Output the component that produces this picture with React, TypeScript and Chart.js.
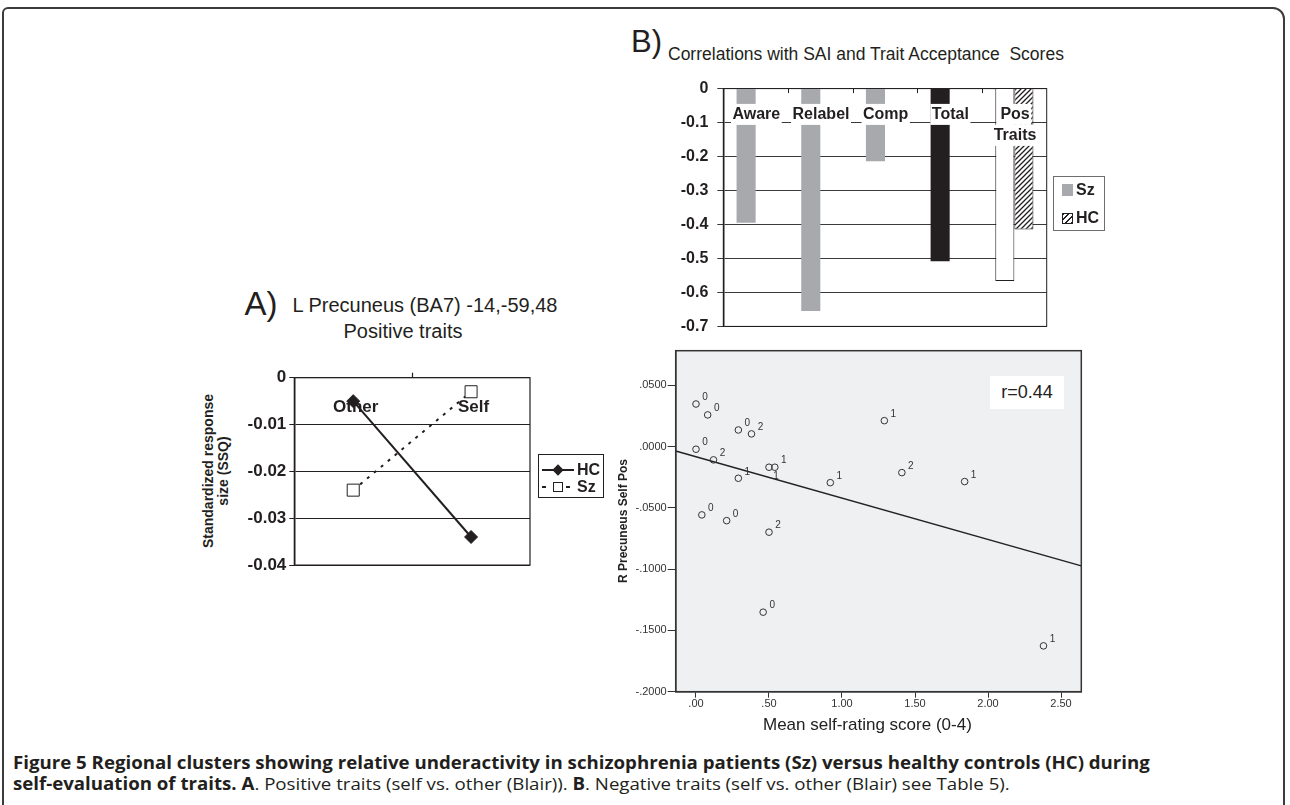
import React, { useEffect, useLayoutEffect, useRef } from 'react';
import { Chart, registerables } from 'chart.js';

Chart.register(...registerables);

const FONT = '"Liberation Sans", Arial, Helvetica, sans-serif';
const INK = '#231f20';

// ---------- Panel B: correlations with SAI and trait acceptance ----------
const saiCategories: (string | string[])[] = ['Aware', 'Relabel', 'Comp', 'Total', ['Pos', 'Traits']];
const szCorrelations: (number | null)[] = [-0.395, -0.655, -0.214, -0.508, -0.566];
const hcCorrelations: (number | null)[] = [null, null, null, null, -0.415];
const corrMin = -0.7;
const corrMax = 0;
const corrStep = 0.1;

// ---------- Panel A: L precuneus, positive traits ----------
const conditions = ['Other', 'Self'];
const hcResponse = [-0.005, -0.034];
const szResponse = [-0.024, -0.003];
const respMin = -0.04;
const respMax = 0;
const respStep = 0.01;

// ---------- Scatter: R precuneus self pos vs mean self-rating ----------
const selfRating = [0.0, 0.08, 0.29, 0.38, 0.0, 0.12, 0.5, 0.54, 0.29, 0.92, 1.29, 1.41, 1.84, 0.04, 0.21, 0.5, 0.46, 2.38];
const precuneusSelfPos = [0.0348, 0.0259, 0.0136, 0.0104, -0.0021, -0.0108, -0.0168, -0.0168, -0.0258, -0.0294, 0.0212, -0.0212, -0.0285, -0.0557, -0.0604, -0.0698, -0.1351, -0.1626];
const pointTags = ['0', '0', '0', '2', '0', '2', '1', '1', '1', '1', '1', '2', '1', '0', '0', '2', '0', '1'];
const tagBelow = [false, false, false, false, false, false, true, false, false, false, false, false, false, false, false, false, false, false];
const fitX = [-0.139, 2.639];
const fitY = [-0.0035, -0.0973];
const scatterXTicks = [0, 0.5, 1, 1.5, 2, 2.5];
const scatterYTicks = [-0.2, -0.15, -0.1, -0.05, 0, 0.05];
const scatterXMin = -0.139;
const scatterXMax = 2.639;
const scatterYMin = -0.2;
const scatterYMax = 0.0783;

Chart.defaults.font.family = FONT;

function makeHatch(): any {
  const c = document.createElement('canvas');
  c.width = 5;
  c.height = 5;
  const g = c.getContext('2d')!;
  g.fillStyle = '#ffffff';
  g.fillRect(0, 0, 5, 5);
  g.strokeStyle = INK;
  g.lineWidth = 1.3;
  g.beginPath();
  g.moveTo(-1, 6);
  g.lineTo(6, -1);
  g.moveTo(-2, 2);
  g.lineTo(2, -2);
  g.moveTo(3, 7);
  g.lineTo(7, 3);
  g.stroke();
  return g.createPattern(c, 'repeat');
}

function CorrelationChart() {
  const ref = useRef<HTMLCanvasElement>(null);
  useEffect(() => {
    const hatch = makeHatch();
    const decor = {
      id: 'corrDecor',
      beforeDatasetsDraw(chart: any) {
        const { ctx, chartArea } = chart;
        const x = chart.scales.x;
        ctx.save();
        ctx.strokeStyle = INK;
        ctx.lineWidth = 1;
        ctx.strokeRect(chartArea.left, chartArea.top, chartArea.right - chartArea.left, chartArea.bottom - chartArea.top);
        ctx.beginPath();
        for (let i = 1; i < saiCategories.length; i++) {
          const bx = Math.round((x.getPixelForValue(i - 1) + x.getPixelForValue(i)) / 2) + 0.5;
          ctx.moveTo(bx, chartArea.top);
          ctx.lineTo(bx, chartArea.top + 4.5);
        }
        ctx.stroke();
        ctx.restore();
      },
      afterDatasetsDraw(chart: any) {
        const { ctx } = chart;
        const x = chart.scales.x;
        const y = chart.scales.y;
        ctx.save();
        ctx.font = `bold 16px ${FONT}`;
        ctx.textAlign = 'center';
        ctx.textBaseline = 'middle';
        saiCategories.forEach((lab, i) => {
          const lines = Array.isArray(lab) ? lab : [lab];
          const cx = x.getPixelForValue(i) + 0.7;
          lines.forEach((ln, j) => {
            const cy = y.getPixelForValue(0) + 25.8 + j * 21;
            const w = ctx.measureText(ln).width;
            ctx.fillStyle = '#ffffff';
            ctx.fillRect(cx - w / 2 - 1.5, cy - 10.5, w + 3, 21);
            ctx.fillStyle = INK;
            ctx.fillText(ln, cx, cy + 0.5);
          });
        });
        ctx.restore();
      },
    };
    const chart = new Chart(ref.current!, {
      type: 'bar',
      data: {
        labels: saiCategories as any,
        datasets: [
          {
            label: 'Sz',
            data: szCorrelations,
            backgroundColor: ['#a7a9ac', '#a7a9ac', '#a7a9ac', INK, '#ffffff'],
            borderColor: INK,
            borderWidth: [0, 0, 0, 0, 1],
            borderSkipped: 'start',
          },
          {
            label: 'HC',
            data: hcCorrelations,
            backgroundColor: hatch,
            borderColor: INK,
            borderWidth: 1,
            borderSkipped: 'start',
          },
        ] as any,
      },
      options: {
        responsive: false,
        animation: false,
        devicePixelRatio: 1,
        layout: { padding: { left: 0, top: 14.4, right: 13.3, bottom: 17.3 } },
        plugins: { legend: { display: false }, tooltip: { enabled: false } },
        datasets: { bar: { categoryPercentage: 0.59, barPercentage: 1 } } as any,
        scales: {
          x: { display: false },
          y: {
            min: corrMin,
            max: corrMax,
            ticks: {
              stepSize: corrStep,
              font: { family: FONT, size: 16, weight: 'bold' },
              color: INK,
              padding: 9,
              callback: (v: any) => (Math.abs(Number(v)) < 1e-9 ? '0' : Number(v).toFixed(1)),
            },
            grid: { color: '#3a3a3a', lineWidth: 1, tickLength: 6 },
            border: { color: INK, width: 1.5 },
            afterFit: (s: any) => {
              s.width = 63.3;
            },
          },
        },
      } as any,
      plugins: [decor],
    });
    return () => chart.destroy();
  }, []);
  return <canvas ref={ref} width={400} height={275} style={{ position: 'absolute', left: 660, top: 70 }} />;
}

function PrecuneusChart() {
  const ref = useRef<HTMLCanvasElement>(null);
  useEffect(() => {
    const decor = {
      id: 'precDecor',
      beforeDatasetsDraw(chart: any) {
        const { ctx, chartArea } = chart;
        const x = chart.scales.x;
        const y = chart.scales.y;
        ctx.save();
        ctx.strokeStyle = INK;
        ctx.lineWidth = 1.2;
        ctx.strokeRect(chartArea.left, chartArea.top, chartArea.right - chartArea.left, chartArea.bottom - chartArea.top);
        const mid = Math.round((x.getPixelForValue(0) + x.getPixelForValue(1)) / 2) + 0.5;
        ctx.beginPath();
        ctx.moveTo(mid, chartArea.top);
        ctx.lineTo(mid, chartArea.top - 5);
        ctx.stroke();
        ctx.font = `bold 17px ${FONT}`;
        ctx.textAlign = 'center';
        ctx.textBaseline = 'middle';
        ctx.fillStyle = INK;
        conditions.forEach((c, i) => {
          ctx.fillText(c, x.getPixelForValue(i) + 2.5, y.getPixelForValue(0) + 29.5);
        });
        ctx.restore();
      },
    };
    const chart = new Chart(ref.current!, {
      type: 'line',
      data: {
        labels: conditions,
        datasets: [
          {
            label: 'HC',
            data: hcResponse,
            borderColor: INK,
            borderWidth: 2,
            pointStyle: 'rectRot',
            pointRadius: 6.5,
            pointBackgroundColor: INK,
            pointBorderColor: INK,
            pointBorderWidth: 1,
          },
          {
            label: 'Sz',
            data: szResponse,
            borderColor: INK,
            borderWidth: 2,
            borderDash: [3, 6],
            pointStyle: 'rect',
            pointRadius: 8.5,
            pointBackgroundColor: '#ffffff',
            pointBorderColor: INK,
            pointBorderWidth: 1,
          },
        ] as any,
      },
      options: {
        responsive: false,
        animation: false,
        devicePixelRatio: 1,
        layout: { padding: { left: 0, top: 17.7, right: 20, bottom: 14.9 } },
        plugins: { legend: { display: false }, tooltip: { enabled: false } },
        scales: {
          x: { display: false, offset: true },
          y: {
            min: respMin,
            max: respMax,
            ticks: {
              stepSize: respStep,
              font: { family: FONT, size: 17, weight: 'bold' },
              color: INK,
              padding: 3,
              callback: (v: any) => (Math.abs(Number(v)) < 1e-9 ? '0' : Number(v).toFixed(2)),
            },
            grid: { color: INK, lineWidth: 1, tickLength: 5 },
            border: { color: INK, width: 1.5 },
            afterFit: (s: any) => {
              s.width = 104.3;
            },
          },
        },
      } as any,
      plugins: [decor],
    });
    return () => chart.destroy();
  }, []);
  return <canvas ref={ref} width={360} height={220} style={{ position: 'absolute', left: 190, top: 360 }} />;
}

function fmtSpss(v: number, d: number) {
  return Number(v).toFixed(d).replace(/^(-?)0\./, '$1.');
}

function ScatterChart() {
  const ref = useRef<HTMLCanvasElement>(null);
  useEffect(() => {
    const decor = {
      id: 'scatDecor',
      beforeDraw(chart: any) {
        const { ctx, chartArea } = chart;
        ctx.save();
        ctx.fillStyle = '#eff0f2';
        ctx.fillRect(chartArea.left, chartArea.top, chartArea.right - chartArea.left, chartArea.bottom - chartArea.top);
        ctx.restore();
      },
      afterDatasetsDraw(chart: any) {
        const { ctx } = chart;
        const meta = chart.getDatasetMeta(0);
        ctx.save();
        ctx.font = `10px ${FONT}`;
        ctx.fillStyle = '#333333';
        ctx.textAlign = 'center';
        ctx.textBaseline = 'middle';
        meta.data.forEach((pt: any, i: number) => {
          const dx = tagBelow[i] ? 7 : 9;
          const dy = tagBelow[i] ? 9 : -6.5;
          ctx.fillText(pointTags[i], pt.x + dx, pt.y + dy);
        });
        ctx.restore();
      },
      afterDraw(chart: any) {
        const { ctx, chartArea } = chart;
        ctx.save();
        ctx.strokeStyle = '#333333';
        ctx.lineWidth = 1.5;
        ctx.strokeRect(chartArea.left, chartArea.top, chartArea.right - chartArea.left, chartArea.bottom - chartArea.top);
        ctx.restore();
      },
    };
    const chart = new Chart(ref.current!, {
      type: 'scatter',
      data: {
        datasets: [
          {
            label: 'subjects',
            data: selfRating.map((x, i) => ({ x, y: precuneusSelfPos[i] })),
            pointRadius: 3.3,
            pointHoverRadius: 3.3,
            pointBorderWidth: 1,
            pointBorderColor: '#333333',
            pointBackgroundColor: 'rgba(0,0,0,0)',
          },
          {
            label: 'fit',
            data: fitX.map((x, i) => ({ x, y: fitY[i] })),
            showLine: true,
            borderColor: '#222222',
            borderWidth: 1.5,
            pointRadius: 0,
            pointHoverRadius: 0,
          },
        ] as any,
      },
      options: {
        responsive: false,
        animation: false,
        devicePixelRatio: 1,
        layout: { padding: { left: 0, top: 15.7, right: 18.7, bottom: 13.3 } },
        plugins: { legend: { display: false }, tooltip: { enabled: false } },
        scales: {
          x: {
            type: 'linear',
            min: scatterXMin,
            max: scatterXMax,
            afterBuildTicks: (s: any) => {
              s.ticks = scatterXTicks.map((v) => ({ value: v }));
            },
            ticks: {
              autoSkip: false,
              maxRotation: 0,
              font: { family: FONT, size: 11 },
              color: '#333333',
              padding: 0,
              callback: (v: any) => fmtSpss(v, 2),
            },
            grid: { drawOnChartArea: false, tickLength: 6, color: '#333333' },
            border: { color: '#333333', width: 1.5 },
            afterFit: (s: any) => {
              s.height = 30;
            },
          },
          y: {
            type: 'linear',
            min: scatterYMin,
            max: scatterYMax,
            afterBuildTicks: (s: any) => {
              s.ticks = scatterYTicks.map((v) => ({ value: v }));
            },
            ticks: {
              autoSkip: false,
              font: { family: FONT, size: 11 },
              color: '#333333',
              padding: 1,
              callback: (v: any) => fmtSpss(v, 4),
            },
            grid: { drawOnChartArea: false, tickLength: 8, color: '#333333' },
            border: { color: '#333333', width: 1.5 },
            afterFit: (s: any) => {
              s.width = 85.7;
            },
          },
        },
      } as any,
      plugins: [decor],
    });
    return () => chart.destroy();
  }, []);
  return <canvas ref={ref} width={510} height={400} style={{ position: 'absolute', left: 590, top: 335 }} />;
}

function Caption() {
  const l1 = useRef<HTMLDivElement>(null);
  const l2 = useRef<HTMLDivElement>(null);
  useLayoutEffect(() => {
    const w = l1.current!.offsetWidth;
    const s = 1137 / w;
    [l1.current!, l2.current!].forEach((el) => {
      el.style.transform = `scaleX(${s})`;
    });
  }, []);
  const base: React.CSSProperties = {
    position: 'absolute',
    left: 13.3,
    whiteSpace: 'nowrap',
    fontFamily: '"Open Sans", "Noto Sans", sans-serif',
    fontSize: 17,
    lineHeight: '20px',
    color: INK,
    transformOrigin: '0 0',
  };
  return (
    <>
      <div ref={l1} style={{ ...base, top: 753.4, fontWeight: 700 }}>
        Figure 5 Regional clusters showing relative underactivity in schizophrenia patients (Sz) versus healthy controls (HC) during
      </div>
      <div ref={l2} style={{ ...base, top: 774, fontWeight: 400 }}>
        <b>self-evaluation of traits. A</b>. Positive traits (self vs. other (Blair)). <b>B</b>. Negative traits (self vs. other (Blair) see Table 5).
      </div>
    </>
  );
}

const abs = (o: React.CSSProperties): React.CSSProperties => ({ position: 'absolute', ...o });

export default function App() {
  return (
    <div
      style={{
        position: 'absolute',
        left: 0,
        top: 0,
        width: 1290,
        height: 805,
        overflow: 'hidden',
        background: '#ffffff',
        fontFamily: FONT,
        color: INK,
      }}
    >
      {/* outer frame */}
      <div
        style={abs({
          left: 2,
          top: 7,
          width: 1283,
          height: 900,
          boxSizing: 'border-box',
          border: '2px solid #3c3c3c',
          borderTopRightRadius: 12,
          borderTopLeftRadius: 6,
        })}
      />

      {/* Panel B title */}
      <div style={abs({ left: 631, top: 25.5, fontSize: 31, lineHeight: '31px', whiteSpace: 'nowrap' })}>B)</div>
      <div style={abs({ left: 668, top: 46.2, fontSize: 17.5, lineHeight: '17.5px', whiteSpace: 'pre' })}>
        {'Correlations with SAI and Trait Acceptance  Scores'}
      </div>
      <CorrelationChart />
      {/* Panel B legend */}
      <div style={abs({ left: 1053, top: 175.7, width: 52, height: 55, boxSizing: 'border-box', border: '1px solid #6d6e71' })} />
      <div style={abs({ left: 1061.7, top: 184.3, width: 11.5, height: 11.5, background: '#a7a9ac' })} />
      <div style={abs({ left: 1076, top: 181, fontSize: 16, fontWeight: 700, lineHeight: '18px' })}>Sz</div>
      <div
        style={abs({
          left: 1062,
          top: 212.7,
          width: 11,
          height: 11,
          boxSizing: 'border-box',
          border: `1.5px solid ${INK}`,
          background: `repeating-linear-gradient(-45deg, ${INK} 0px, ${INK} 1.3px, #ffffff 1.3px, #ffffff 4px)`,
        })}
      />
      <div style={abs({ left: 1076, top: 209, fontSize: 16, fontWeight: 700, lineHeight: '18px' })}>HC</div>

      {/* Panel A title */}
      <div style={abs({ left: 244.5, top: 287.1, fontSize: 33, lineHeight: '33px', whiteSpace: 'nowrap' })}>A)</div>
      <div style={abs({ left: 292.5, top: 294.8, fontSize: 20, lineHeight: '20px', whiteSpace: 'nowrap' })}>
        L Precuneus (BA7) -14,-59,48
      </div>
      <div style={abs({ left: 303, top: 321.4, width: 200, textAlign: 'center', fontSize: 20, lineHeight: '20px', whiteSpace: 'nowrap' })}>
        Positive traits
      </div>
      {/* Panel A y title */}
      <div
        style={abs({
          left: 216.3 - 110,
          top: 471 - 15,
          width: 220,
          height: 30,
          textAlign: 'center',
          fontSize: 14,
          fontWeight: 700,
          lineHeight: '15px',
          transform: 'rotate(-90deg)',
          whiteSpace: 'nowrap',
        })}
      >
        Standardized response
        <br />
        size (SSQ)
      </div>
      <PrecuneusChart />
      {/* Panel A legend */}
      <div style={abs({ left: 537.7, top: 454, width: 66, height: 43.7, boxSizing: 'border-box', border: `1px solid ${INK}` })} />
      <div style={abs({ left: 542, top: 469, width: 32, height: 2, background: INK })} />
      <div style={abs({ left: 554, top: 466, width: 8, height: 8, background: INK, transform: 'rotate(45deg)' })} />
      <div style={abs({ left: 577, top: 461, fontSize: 16, fontWeight: 700, lineHeight: '18px' })}>HC</div>
      <div style={abs({ left: 542, top: 486, width: 4, height: 2, background: INK })} />
      <div
        style={abs({
          left: 552.7,
          top: 481.7,
          width: 10.6,
          height: 10.6,
          boxSizing: 'border-box',
          border: `1px solid ${INK}`,
          background: '#ffffff',
        })}
      />
      <div style={abs({ left: 566, top: 486, width: 4, height: 2, background: INK })} />
      <div style={abs({ left: 577, top: 478, fontSize: 16, fontWeight: 700, lineHeight: '18px' })}>Sz</div>

      {/* Scatter */}
      <ScatterChart />
      <div
        style={abs({
          left: 622.5 - 100,
          top: 520.8 - 8,
          width: 200,
          height: 16,
          lineHeight: '16px',
          textAlign: 'center',
          fontSize: 12,
          fontWeight: 700,
          color: '#222222',
          transform: 'rotate(-90deg)',
          whiteSpace: 'nowrap',
        })}
      >
        R Precuneus Self Pos
      </div>
      <div style={abs({ left: 763, top: 715, width: 200, textAlign: 'center', fontSize: 17, lineHeight: '20px', color: '#222222', whiteSpace: 'nowrap' })}>
        Mean self-rating score (0-4)
      </div>
      <div
        style={abs({
          left: 990,
          top: 375.7,
          width: 74,
          height: 33.3,
          background: '#ffffff',
          textAlign: 'center',
          fontSize: 18,
          lineHeight: '33.3px',
          color: '#222222',
        })}
      >
        r=0.44
      </div>

      <Caption />
    </div>
  );
}
